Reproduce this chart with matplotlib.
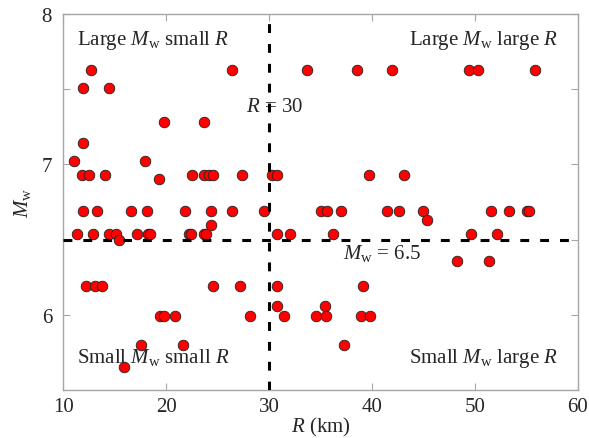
import matplotlib
matplotlib.use("Agg")
import matplotlib.pyplot as plt
import numpy as np

plt.rcParams['font.family'] = ['Liberation Serif', 'DejaVu Serif']
plt.rcParams['mathtext.fontset'] = 'custom'
plt.rcParams['mathtext.rm'] = 'Liberation Serif'
plt.rcParams['mathtext.it'] = 'Liberation Serif:italic'

# Distance R (km) and magnitude Mw of the records
R_km = [12.67, 26.37, 33.66, 38.52, 41.98, 49.44, 50.28, 55.88,
        11.95, 14.48,
        19.83, 23.65,
        11.95,
        11.05, 17.95,
        11.86, 12.54, 14.06, 22.52, 23.71, 24.17, 24.59, 27.41, 30.32, 30.75, 39.75, 43.15,
        19.28,
        11.89, 13.26, 16.56, 18.11, 21.87, 24.33, 26.40, 29.51, 35.05, 35.67, 37.03,
        41.50, 42.63, 44.93, 51.57, 53.32, 55.10, 55.30,
        45.36,
        24.33,
        11.37, 12.93, 14.42, 15.13, 17.14, 18.20, 18.40, 22.25, 22.40, 23.68, 23.85,
        30.75, 32.04, 36.22, 49.60, 52.13,
        15.39,
        48.27, 51.35,
        12.22, 13.12, 13.77, 24.53, 27.18, 30.81, 39.17,
        30.81, 35.44,
        19.41, 19.83, 20.84, 28.15, 31.49, 34.54, 35.57, 38.94, 39.82,
        17.56, 21.67, 37.29,
        15.94]
Mw = [7.63, 7.63, 7.63, 7.63, 7.63, 7.63, 7.63, 7.63,
      7.51, 7.51,
      7.28, 7.28,
      7.14,
      7.02, 7.02,
      6.93, 6.93, 6.93, 6.93, 6.93, 6.93, 6.93, 6.93, 6.93, 6.93, 6.93, 6.93,
      6.90,
      6.69, 6.69, 6.69, 6.69, 6.69, 6.69, 6.69, 6.69, 6.69, 6.69, 6.69,
      6.69, 6.69, 6.69, 6.69, 6.69, 6.69, 6.69,
      6.63,
      6.60,
      6.54, 6.54, 6.54, 6.54, 6.54, 6.54, 6.54, 6.54, 6.54, 6.54, 6.54,
      6.54, 6.54, 6.54, 6.54, 6.54,
      6.50,
      6.36, 6.36,
      6.19, 6.19, 6.19, 6.19, 6.19, 6.19, 6.19,
      6.06, 6.06,
      5.99, 5.99, 5.99, 5.99, 5.99, 5.99, 5.99, 5.99, 5.99,
      5.80, 5.80, 5.80,
      5.65]

R_split = 30
Mw_split = 6.5
x_ticks = [10, 20, 30, 40, 50, 60]
y_major = [6, 7, 8]
y_minor = [6.5, 7.5]

fig = plt.figure(figsize=(5.89, 4.39), dpi=100)
ax = fig.add_axes([0.1073, 0.1093, 0.8737, 0.8565])

ax.scatter(R_km, Mw, s=58, c='#ff0000', edgecolors='#222222', linewidths=0.6, zorder=3)

ax.axvline(R_split, color='black', lw=2.2, dashes=(2.9, 3.6), zorder=4)
ax.axhline(Mw_split, color='black', lw=2.2, dashes=(2.9, 3.6), zorder=4)

ax.set_xlim(10, 60)
ax.set_ylim(5.5, 8)
ax.set_xticks(x_ticks)
ax.set_yticks(y_major)
ax.set_yticks(y_minor, minor=True)

for sp in ax.spines.values():
    sp.set_color('#a6a6a6')
    sp.set_linewidth(1.0)
ax.tick_params(which='both', direction='in', top=True, right=True, length=5,
               color='#a6a6a6', labelsize=15, labelcolor='#262626', width=0.8)
ax.tick_params(axis='x', pad=5)
ax.tick_params(axis='y', pad=8)

ax.set_xlabel('$R$ (km)', fontsize=15, color='#262626')
ax.xaxis.set_label_coords(0.5, -0.066)
ax.xaxis.label.set_va('top')
ax.set_ylabel('$M_{\\rm w}$', fontsize=15, color='#262626', labelpad=6)

fs = 15
tc = '#262626'
ax.text(0.027, 0.920, 'Large $M_{\\rm w}$ small $R$', transform=ax.transAxes, fontsize=fs, color=tc, ha='left', va='baseline')
ax.text(0.962, 0.920, 'Large $M_{\\rm w}$ large $R$', transform=ax.transAxes, fontsize=fs, color=tc, ha='right', va='baseline')
ax.text(0.027, 0.0745, 'Small $M_{\\rm w}$ small $R$', transform=ax.transAxes, fontsize=fs, color=tc, ha='left', va='baseline')
ax.text(0.962, 0.0745, 'Small $M_{\\rm w}$ large $R$', transform=ax.transAxes, fontsize=fs, color=tc, ha='right', va='baseline')
ax.text(0.41, 0.742, '$R$ = 30', transform=ax.transAxes, fontsize=fs, color=tc, ha='center', va='baseline', zorder=2)
ax.text(0.62, 0.352, '$M_{\\rm w}$ = 6.5', transform=ax.transAxes, fontsize=fs, color=tc, ha='center', va='baseline', zorder=2)

fig.savefig('out.png', dpi=100)
